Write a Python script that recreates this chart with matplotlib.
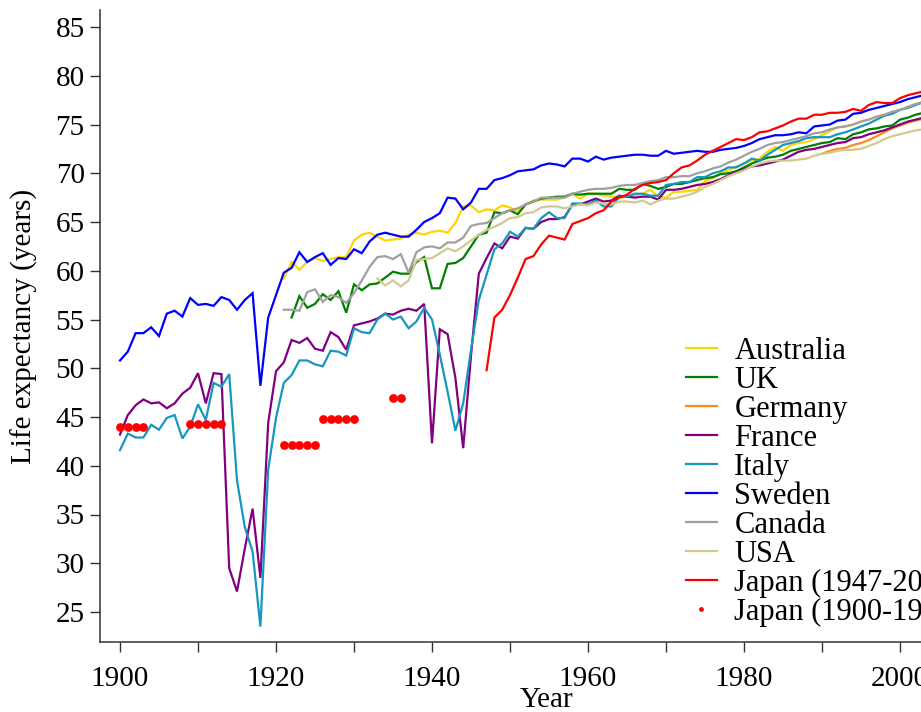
import numpy as np
import matplotlib
matplotlib.use("Agg")
import matplotlib.pyplot as plt

plt.rcParams['font.family'] = ['Liberation Serif', 'DejaVu Serif']

# Male period life expectancy at birth (years), one value per calendar year
sweden_start = 1900
sweden = [
    50.8, 51.7, 53.6, 53.6, 54.2, 53.3, 55.6, 55.9, 55.3, 57.2,
    56.5, 56.6, 56.4, 57.3, 57.0, 56.0, 57.0, 57.7, 48.2, 55.2,
    57.5, 59.8, 60.3, 61.9, 60.9, 61.4, 61.8, 60.6, 61.3, 61.2,
    62.2, 61.8, 63.0, 63.7, 63.9, 63.7, 63.5, 63.5, 64.2, 65.0,
    65.4, 65.9, 67.5, 67.4, 66.3, 67.0, 68.4, 68.4, 69.3, 69.5,
    69.8, 70.2, 70.3, 70.4, 70.8, 71.0, 70.9, 70.7, 71.5, 71.5,
    71.2, 71.7, 71.4, 71.6, 71.7, 71.8, 71.9, 71.9, 71.8, 71.8,
    72.3, 72.0, 72.1, 72.2, 72.3, 72.2, 72.2, 72.4, 72.5, 72.6,
    72.8, 73.1, 73.5, 73.7, 73.9, 73.9, 74.0, 74.2, 74.1, 74.8,
    74.9, 75.0, 75.4, 75.5, 76.1, 76.2, 76.5, 76.7, 76.9, 77.1,
    77.3, 77.6, 77.8, 78.0]

france_start = 1900
france = [
    43.2, 45.2, 46.2, 46.8, 46.4, 46.5, 45.9, 46.4, 47.4, 48.0,
    49.5, 46.4, 49.5, 49.4, 29.5, 27.1, 31.5, 35.6, 28.5, 44.4,
    49.7, 50.6, 52.9, 52.6, 53.1, 52.0, 51.8, 53.7, 53.2, 51.9,
    54.4, 54.6, 54.8, 55.1, 55.6, 55.5, 55.9, 56.1, 55.9, 56.6,
    42.3, 54.0, 53.5, 49.0, 41.8, 51.3, 59.7, 61.3, 62.8, 62.3,
    63.5, 63.3, 64.4, 64.3, 65.0, 65.3, 65.3, 65.5, 66.8, 66.8,
    67.1, 67.4, 67.1, 67.2, 67.7, 67.6, 67.5, 67.6, 67.6, 67.3,
    68.3, 68.3, 68.4, 68.6, 68.8, 68.9, 69.1, 69.4, 69.8, 70.1,
    70.4, 70.7, 70.8, 71.0, 71.2, 71.4, 71.8, 72.2, 72.4, 72.5,
    72.7, 72.9, 73.1, 73.2, 73.6, 73.7, 74.0, 74.2, 74.4, 74.7,
    75.0, 75.3, 75.5, 75.7]

italy_start = 1900
italy = [
    41.6, 43.3, 42.9, 42.9, 44.2, 43.7, 44.9, 45.2, 42.8, 44.0,
    46.3, 44.7, 48.5, 48.1, 49.4, 38.5, 33.7, 31.2, 23.5, 39.6,
    44.9, 48.5, 49.3, 50.8, 50.8, 50.4, 50.2, 51.8, 51.7, 51.3,
    54.1, 53.7, 53.6, 55.0, 55.6, 55.0, 55.3, 54.1, 54.8, 56.2,
    55.0, 51.4, 47.6, 43.6, 46.4, 51.9, 57.0, 59.6, 62.2, 62.8,
    64.0, 63.5, 64.4, 64.3, 65.4, 66.0, 65.4, 65.4, 66.9, 66.9,
    66.8, 67.2, 66.6, 66.6, 67.6, 67.6, 67.9, 67.9, 67.7, 67.7,
    68.8, 68.9, 69.1, 69.1, 69.6, 69.6, 70.0, 70.2, 70.6, 70.6,
    71.0, 71.5, 71.3, 71.9, 72.4, 72.9, 73.1, 73.3, 73.6, 73.7,
    73.7, 73.7, 74.0, 74.2, 74.5, 74.8, 75.1, 75.5, 75.9, 76.1,
    76.5, 76.7, 77.0, 77.3]

canada_start = 1921
canada = [
    56.0, 56.0, 55.9, 57.8, 58.1, 56.8, 57.5, 57.3, 56.7,
    57.7, 59.0, 60.4, 61.4, 61.5, 61.2, 61.7, 59.8, 61.9, 62.4,
    62.5, 62.3, 62.9, 62.9, 63.4, 64.6, 64.8, 64.9, 65.4, 65.9,
    66.2, 66.4, 66.8, 67.1, 67.5, 67.5, 67.5, 67.5, 67.9, 68.1,
    68.3, 68.4, 68.4, 68.5, 68.7, 68.8, 68.8, 69.0, 69.2, 69.3,
    69.6, 69.6, 69.7, 69.7, 70.0, 70.2, 70.5, 70.7, 71.1, 71.4,
    71.8, 72.2, 72.5, 72.9, 73.1, 73.2, 73.4, 73.6, 73.8, 74.1,
    74.2, 74.5, 74.7, 74.8, 75.0, 75.3, 75.5, 75.8, 76.0, 76.3,
    76.5, 76.8, 77.1, 77.3]

australia_start = 1921
australia = [
    59.2, 60.9, 60.1, 60.9, 61.3, 61.0, 61.2, 61.4, 61.4,
    63.1, 63.7, 63.9, 63.5, 63.1, 63.2, 63.3, 63.7, 63.9, 63.7,
    64.0, 64.1, 63.9, 64.9, 66.6, 66.7, 66.0, 66.3, 66.2, 66.7,
    66.5, 66.1, 66.8, 67.2, 67.3, 67.3, 67.3, 67.5, 67.9, 67.4,
    67.9, 67.9, 67.7, 67.6, 67.5, 67.6, 67.7, 67.9, 68.3, 67.6,
    67.5, 68.1, 68.1, 68.2, 68.3, 69.2, 69.5, 70.0, 70.3, 70.7,
    71.0, 71.3, 71.5, 72.2, 72.7, 72.3, 72.9, 73.1, 73.2, 73.5,
    73.9, 74.3, 74.7, 74.8, 75.0, 75.3, 75.5, 75.8, 76.0, 76.3,
    76.5, 76.8, 77.1, 77.3]

uk_start = 1922
uk = [
    55.2, 57.4, 56.2, 56.6, 57.6, 57.0, 57.9, 55.7,
    58.6, 58.0, 58.6, 58.7, 59.3, 59.9, 59.7, 59.7, 60.9, 61.4,
    58.2, 58.2, 60.7, 60.8, 61.3, 62.5, 63.7, 63.9, 66.0, 65.9,
    66.2, 65.8, 66.8, 67.1, 67.4, 67.5, 67.6, 67.6, 67.9, 67.8,
    67.9, 67.9, 67.9, 67.9, 68.4, 68.3, 68.3, 68.9, 68.7, 68.4,
    68.6, 68.9, 68.9, 69.1, 69.3, 69.5, 69.6, 69.9, 70.0, 70.2,
    70.6, 71.0, 71.3, 71.6, 71.7, 71.9, 72.3, 72.5, 72.7, 72.9,
    73.1, 73.2, 73.6, 73.5, 74.0, 74.2, 74.5, 74.6, 74.8, 74.9,
    75.5, 75.7, 76.0, 76.2]

usa_start = 1933
usa = [
    59.2, 58.5, 59.0, 58.4, 59.0, 61.1, 61.2,
    61.3, 61.8, 62.3, 62.0, 62.5, 63.1, 63.7, 64.2, 64.5, 64.9,
    65.4, 65.5, 65.9, 66.0, 66.5, 66.6, 66.6, 66.4, 66.6, 66.8,
    66.7, 67.0, 66.9, 66.8, 67.1, 67.1, 67.0, 67.2, 66.8, 67.2,
    67.4, 67.4, 67.6, 67.8, 68.1, 68.6, 68.9, 69.3, 69.7, 70.0,
    70.3, 70.7, 71.0, 71.2, 71.3, 71.3, 71.3, 71.4, 71.5, 71.8,
    72.0, 72.1, 72.3, 72.4, 72.4, 72.5, 72.8, 73.1, 73.5, 73.8,
    74.0, 74.2, 74.4, 74.5]

germany_start = 1990
germany = [72.0, 72.3, 72.5, 72.6, 72.9, 73.1, 73.4, 73.8, 74.2, 74.6,
           74.9, 75.2, 75.4, 75.6]

japan_start = 1947
japan = [
    49.8, 55.2, 56.0,
    57.5, 59.3, 61.2, 61.5, 62.7, 63.6, 63.4, 63.2, 64.8, 65.1,
    65.4, 65.9, 66.2, 67.1, 67.5, 67.8, 68.4, 68.8, 69.0, 69.1,
    69.3, 70.0, 70.6, 70.8, 71.3, 71.9, 72.3, 72.7, 73.1, 73.5,
    73.4, 73.7, 74.2, 74.3, 74.6, 74.9, 75.3, 75.6, 75.6, 76.0,
    76.0, 76.2, 76.2, 76.3, 76.6, 76.4, 77.0, 77.3, 77.2, 77.2,
    77.7, 78.0, 78.2, 78.4]

# pre-war Japanese life tables, one value repeated over each table period
japan_early_years = [1900, 1901, 1902, 1903,
                     1909, 1910, 1911, 1912, 1913,
                     1921, 1922, 1923, 1924, 1925,
                     1926, 1927, 1928, 1929, 1930,
                     1935, 1936]
japan_early = [44.0, 44.0, 44.0, 44.0,
               44.3, 44.3, 44.3, 44.3, 44.3,
               42.1, 42.1, 42.1, 42.1, 42.1,
               44.8, 44.8, 44.8, 44.8, 44.8,
               46.9, 46.9]

series = [
    ("Australia", australia_start, australia, "#FFD500"),
    ("UK", uk_start, uk, "#008000"),
    ("Germany", germany_start, germany, "#FF8C1A"),
    ("France", france_start, france, "#800080"),
    ("Italy", italy_start, italy, "#1797C0"),
    ("Sweden", sweden_start, sweden, "#0000FF"),
    ("Canada", canada_start, canada, "#A0A0A0"),
    ("USA", usa_start, usa, "#D2C98F"),
    ("Japan (1947-2003)", japan_start, japan, "#FF0000"),
]

W, H = 921, 712
fig = plt.figure(figsize=(W / 100, H / 100), dpi=100)

# axes in pixels: left spine at x=100, bottom spine at y=642, top at y=10;
# the right part runs past the edge of the canvas
px_year = 7.8
left_px, right_px, top_px, bot_px = 100, 994, 10, 642
ax = fig.add_axes([left_px / W, (H - bot_px) / H,
                   (right_px - left_px) / W, (bot_px - top_px) / H])
ax.set_xlim(1900 - (120 - left_px) / px_year, 1900 + (right_px - 120) / px_year)
px_val = 9.75
ax.set_ylim(25 - (bot_px - 612) / px_val, 85 + (27 - top_px) / px_val)

for name, start, vals, col in series:
    yrs = np.arange(start, start + len(vals))
    ax.plot(yrs, vals, color=col, lw=1.6, label=name, solid_joinstyle='miter')

ax.plot(japan_early_years, japan_early, ls='none', marker='o', ms=6.3,
        color='#FF0000', mec='none', label="Japan (1900-1936)")

for s in ('top', 'right'):
    ax.spines[s].set_visible(False)
for s in ('left', 'bottom'):
    ax.spines[s].set_linewidth(1.1)
    ax.spines[s].set_color('#333333')

xt = list(range(1900, 2011, 10))
ax.set_xticks(xt)
ax.set_xticklabels([str(t) if t % 20 == 0 else '' for t in xt])
ax.set_yticks(range(25, 86, 5))
ax.tick_params(axis='both', direction='out', length=7, width=1,
               color='#333333', labelsize=21)
ax.tick_params(axis='x', pad=10)
ax.tick_params(axis='y', pad=4)

ax.set_xlabel("Year", fontsize=21)
ax.xaxis.set_label_coords(0.5, -0.071)
ax.set_ylabel("Life expectancy (years)", fontsize=21)
ax.yaxis.set_label_coords(-0.069, 0.5)

ax.legend(loc='upper left', bbox_to_anchor=(686 / W, 1 - 337 / H),
          bbox_transform=fig.transFigure, frameon=False, fontsize=22,
          handlelength=1.0, handletextpad=0.58, labelspacing=0.0,
          borderpad=0, borderaxespad=0, markerscale=0.55)

fig.savefig("out.png", dpi=100)
